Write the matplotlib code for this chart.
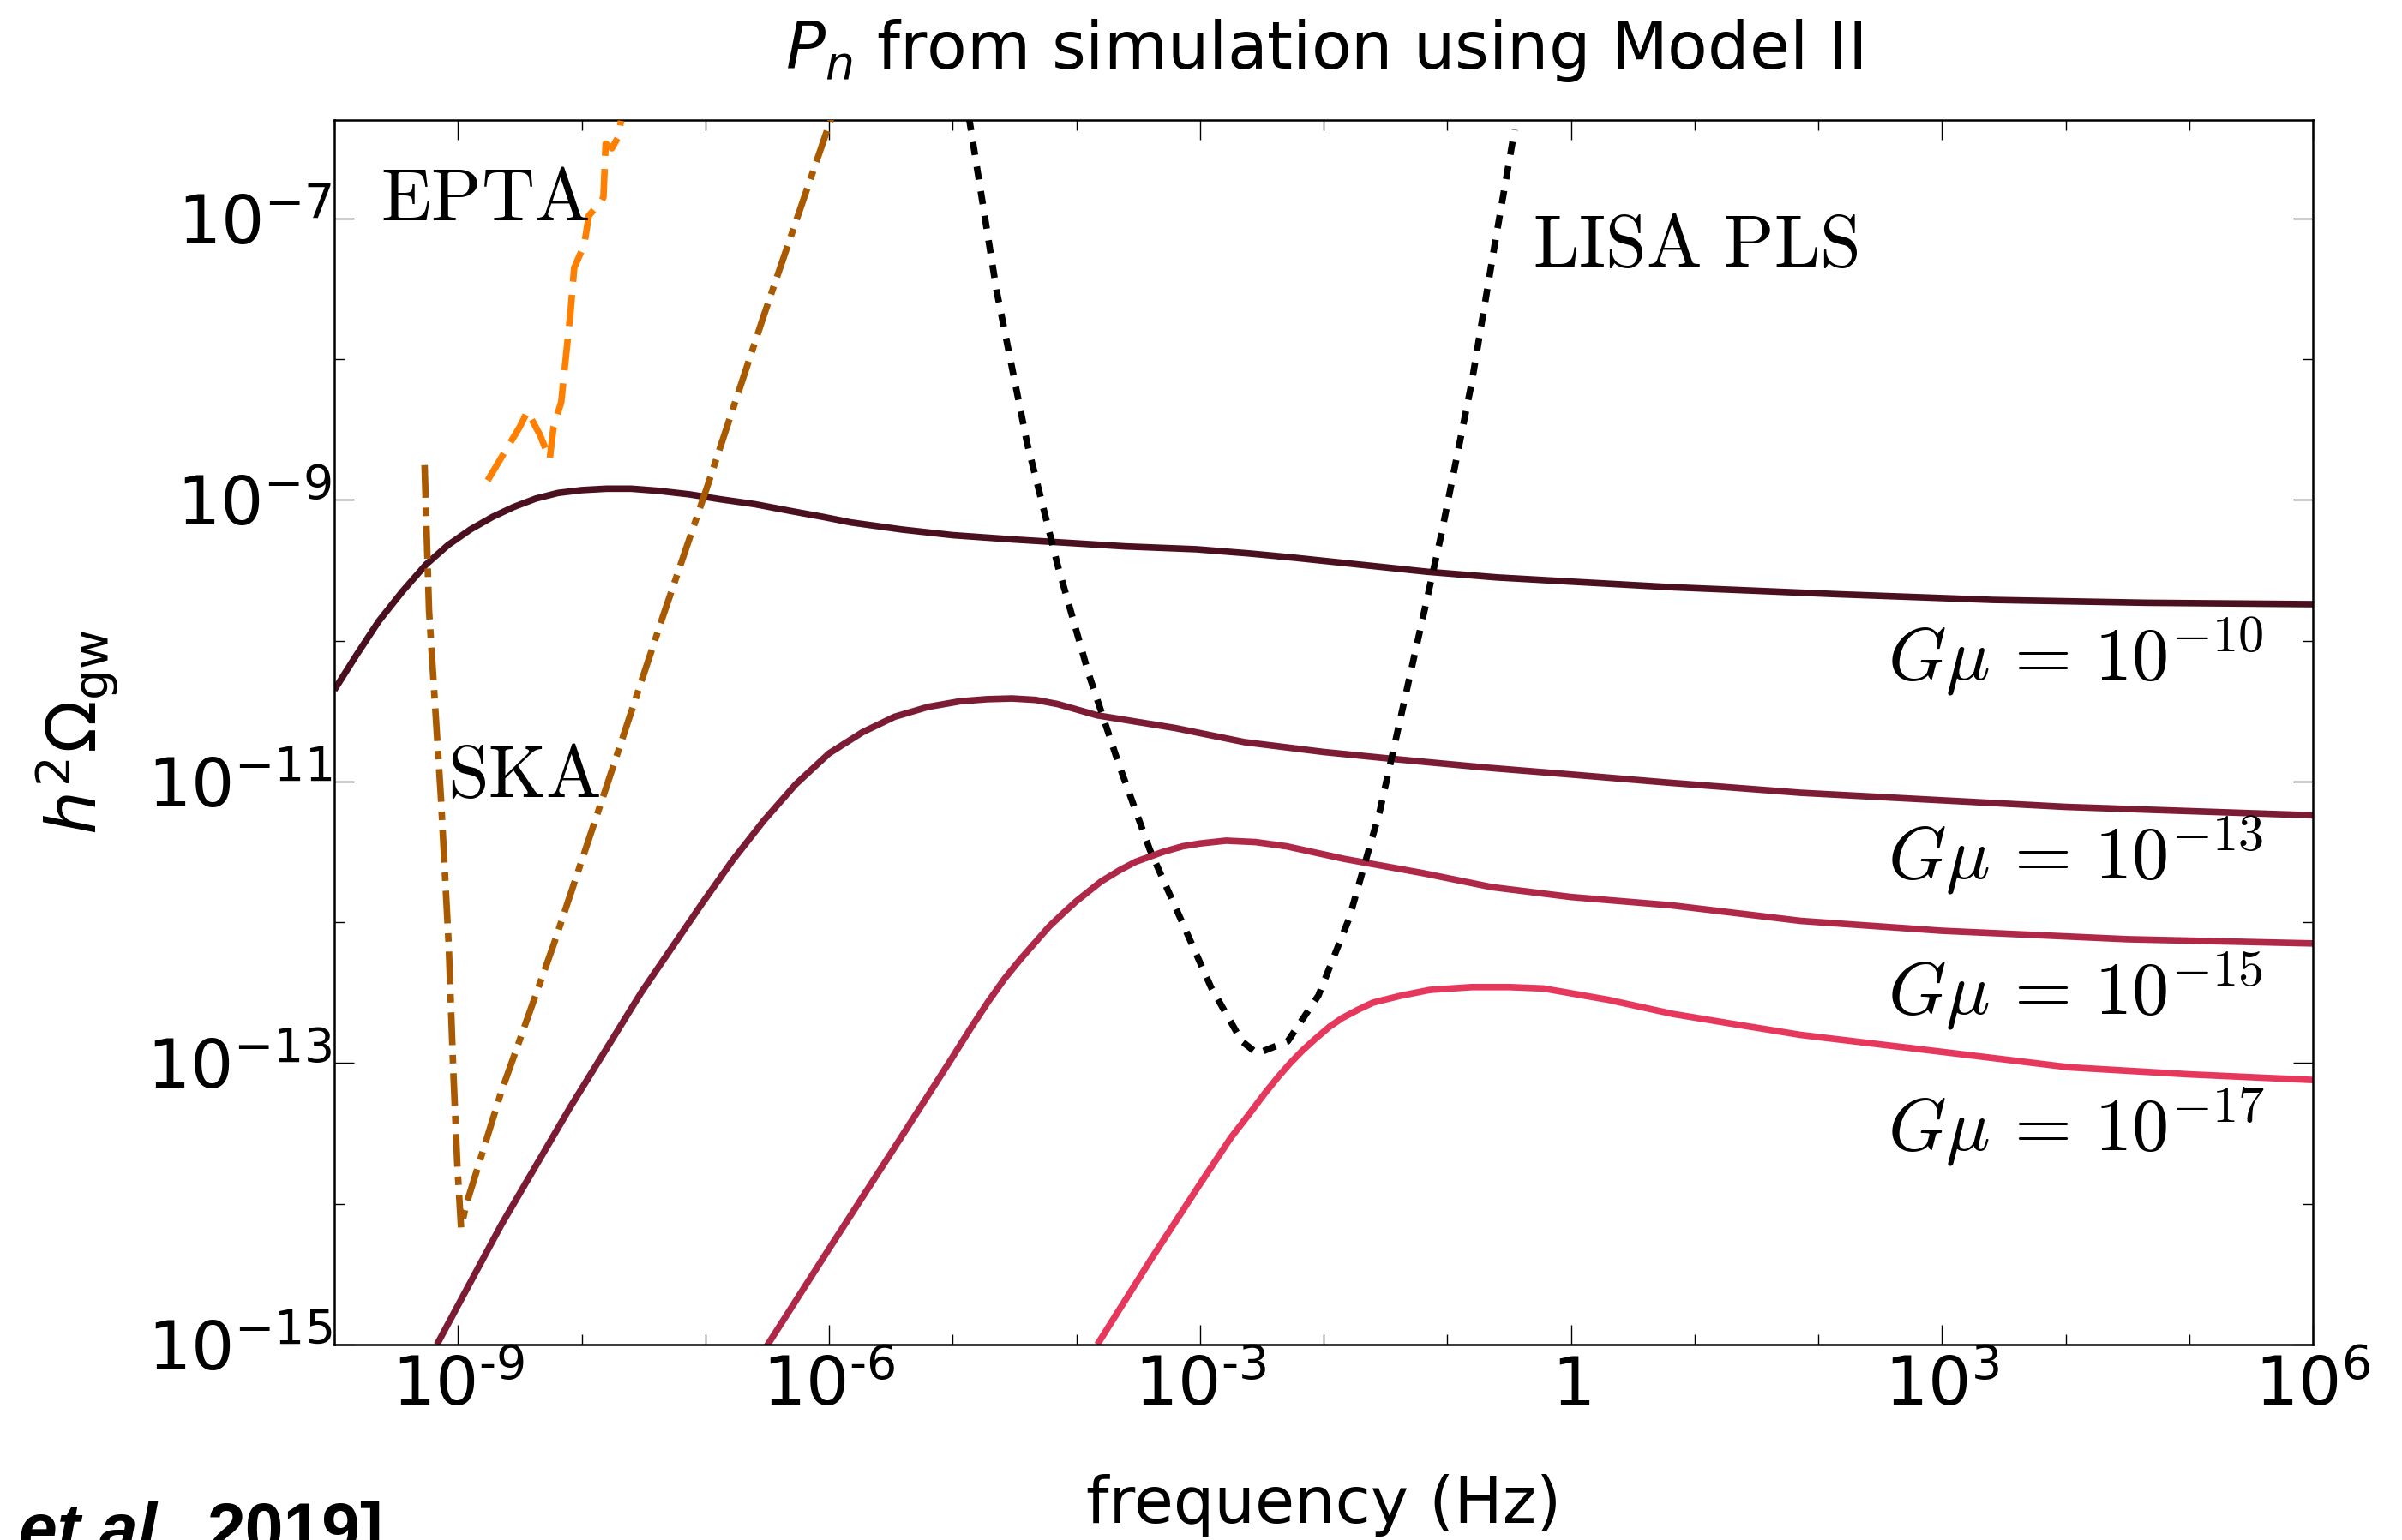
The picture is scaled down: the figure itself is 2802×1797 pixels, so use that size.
import numpy as np
import matplotlib
matplotlib.use("Agg")
import matplotlib.pyplot as plt
from matplotlib.ticker import FixedLocator, LogLocator, NullFormatter

# ── Data (log10 frequency [Hz], log10 h^2 Omega_gw) ─────────────────────────
gmu_labels = [r"$G\mu\,=\,10^{-10}$", r"$G\mu\,=\,10^{-13}$",
              r"$G\mu\,=\,10^{-15}$", r"$G\mu\,=\,10^{-17}$"]
gmu_colors = ["#4b1020", "#7c1c34", "#af2848", "#e6375c"]

gmu10_logf = [-10.0, -9.82, -9.64, -9.45, -9.26, -9.08, -8.90, -8.72, -8.55,
              -8.37, -8.19, -8.00, -7.80, -7.60, -7.38, -7.13, -6.88, -6.60,
              -6.30, -6.05, -5.82, -5.41, -5.00, -4.52, -4.15, -3.60, -3.03,
              -2.60, -2.24, -1.70, -1.16, -0.60, 0.0, 0.82, 1.50, 2.17, 3.41,
              4.65, 6.0]
gmu10_logo = [-10.35, -10.10, -9.86, -9.65, -9.46, -9.32, -9.21, -9.12, -9.05,
              -8.99, -8.95, -8.93, -8.92, -8.92, -8.935, -8.96, -8.995, -9.03,
              -9.08, -9.12, -9.16, -9.21, -9.25, -9.28, -9.30, -9.33, -9.35,
              -9.38, -9.41, -9.46, -9.51, -9.55, -9.58, -9.62, -9.645, -9.67,
              -9.71, -9.73, -9.74]

gmu13_logf = [-9.17, -8.65, -8.09, -7.52, -7.03, -6.78, -6.53, -6.27, -6.00,
              -5.73, -5.47, -5.20, -4.94, -4.72, -4.52, -4.33, -4.15, -3.83,
              -3.20, -2.64, -2.00, -1.43, -0.70, 0.0, 0.82, 1.86, 4.0, 6.0]
gmu13_logo = [-15.0, -14.15, -13.31, -12.50, -11.87, -11.56, -11.28, -11.02,
              -10.80, -10.65, -10.54, -10.47, -10.43, -10.415, -10.41, -10.42,
              -10.45, -10.53, -10.62, -10.72, -10.79, -10.84, -10.90, -10.95,
              -11.01, -11.08, -11.18, -11.24]

gmu15_logf = [-6.51, -6.00, -5.47, -5.01, -4.86, -4.71, -4.58, -4.45, -4.33,
              -4.22, -4.10, -4.00, -3.80, -3.65, -3.52, -3.30, -3.14, -3.00,
              -2.79, -2.55, -2.30, -1.83, -1.20, -0.64, 0.0, 0.82, 1.86, 3.0,
              4.5, 6.0]
gmu15_logo = [-15.02, -14.32, -13.60, -12.97, -12.76, -12.56, -12.40, -12.26,
              -12.14, -12.03, -11.93, -11.85, -11.71, -11.63, -11.57, -11.50,
              -11.46, -11.44, -11.42, -11.43, -11.46, -11.55, -11.65, -11.75,
              -11.82, -11.88, -11.99, -12.06, -12.12, -12.15]

gmu17_logf = [-3.83, -3.40, -3.00, -2.75, -2.60, -2.48, -2.37, -2.27, -2.17,
              -2.07, -1.95, -1.85, -1.72, -1.60, -1.37, -1.14, -0.80, -0.50,
              -0.22, 0.30, 0.82, 1.30, 1.86, 3.0, 4.03, 5.0, 6.0]
gmu17_logo = [-15.0, -14.40, -13.86, -13.53, -13.36, -13.22, -13.10, -13.00,
              -12.91, -12.83, -12.74, -12.68, -12.62, -12.57, -12.52, -12.48,
              -12.46, -12.46, -12.47, -12.55, -12.65, -12.72, -12.80, -12.92,
              -13.03, -13.08, -13.12]

# detector sensitivity curves
epta_logf = [-8.760, -8.500, -8.438, -8.339, -8.258, -8.227, -8.165, -8.128,
             -8.091, -8.060, -7.979, -7.942, -7.855, -7.824, -7.806, -7.756,
             -7.707, -7.682]
epta_logo = [-8.861, -8.480, -8.371, -8.534, -8.709, -8.480, -8.305, -7.989,
             -7.676, -7.350, -7.186, -6.979, -6.893, -6.849, -6.468, -6.501,
             -6.425, -6.306]

ska_logf = [-9.270, -9.234, -9.138, -9.075, -9.039, -9.005, -8.975, -8.934,
            -8.651, -8.227, -7.801, -7.340, -6.988, -6.529, -5.980]
ska_logo = [-8.752, -9.785, -11.111, -12.158, -13.029, -13.728, -14.17, -14.009,
            -13.207, -12.160, -11.040, -9.818, -8.913, -7.693, -6.282]

lisa_logf = [-4.868, -4.645, -4.397, -4.149, -3.901, -3.653, -3.405, -3.157,
             -2.909, -2.661, -2.537, -2.290, -2.042, -1.794, -1.546, -1.298,
             -1.050, -0.802, -0.616, -0.455]
lisa_logo = [-6.282, -7.512, -8.600, -9.470, -10.233, -10.886, -11.485, -11.974,
             -12.464, -12.845, -12.932, -12.845, -12.520, -11.974, -11.212,
             -10.233, -9.253, -8.165, -7.185, -6.369]

xtick_vals = [1e-9, 1e-6, 1e-3, 1.0, 1e3, 1e6]
xtick_labels = [r"$10^{\text{-}9}$", r"$10^{\text{-}6}$", r"$10^{\text{-}3}$",
                r"$1$", r"$10^{3}$", r"$10^{6}$"]
ytick_vals = [1e-15, 1e-13, 1e-11, 1e-9, 1e-7]
ytick_labels = [r"$10^{-15}$", r"$10^{-13}$", r"$10^{-11}$", r"$10^{-9}$",
                r"$10^{-7}$"]

# label anchor points (log10 f of left edge, log10 Omega of centre)
gmu_label_logf = 2.564
gmu_label_logo = [-10.113, -11.525, -12.486, -13.455]


def pw(a):
    return np.power(10.0, np.asarray(a))


# ── Plot ─────────────────────────────────────────────────────────────────────
fig = plt.figure(figsize=(28.02, 17.97), dpi=100)
ax = fig.add_axes([0.1392, 0.1269, 0.8237, 0.7952])

curves = [(gmu10_logf, gmu10_logo), (gmu13_logf, gmu13_logo),
          (gmu15_logf, gmu15_logo), (gmu17_logf, gmu17_logo)]
for (lf, lo), col in zip(curves, gmu_colors):
    ax.plot(pw(lf), pw(lo), color=col, lw=5.5, solid_capstyle="butt",
            solid_joinstyle="round", zorder=2)

ax.plot(pw(ska_logf), pw(ska_logo), color="#a95a00", lw=5.5,
        linestyle=(0, (5.0, 1.5, 1.3, 1.5)), zorder=3)
ax.plot(pw(epta_logf), pw(epta_logo), color="#ff8000", lw=5.5,
        linestyle=(0, (4.8, 2.0)), zorder=3)
ax.plot(pw(lisa_logf), pw(lisa_logo), color="black", lw=5.5,
        linestyle=(0, (2.0, 1.8)), zorder=3)

ax.set_xscale("log")
ax.set_yscale("log")
ax.set_xlim(1e-10, 1e6)
ax.set_ylim(1e-15, 10 ** -6.3)

ax.xaxis.set_major_locator(FixedLocator(xtick_vals))
ax.set_xticklabels(xtick_labels)
ax.xaxis.set_minor_locator(LogLocator(base=10, subs=(1.0,), numticks=40))
ax.xaxis.set_minor_formatter(NullFormatter())
ax.yaxis.set_major_locator(FixedLocator(ytick_vals))
ax.set_yticklabels(ytick_labels)
ax.yaxis.set_minor_locator(LogLocator(base=10, subs=(1.0,), numticks=40))
ax.yaxis.set_minor_formatter(NullFormatter())

ax.tick_params(which="both", direction="in", top=True, right=True,
               labelsize=57, width=1.0, colors="black")
ax.tick_params(which="major", length=16.5)
ax.tick_params(which="minor", length=8.5)
ax.tick_params(axis="x", which="major", pad=8)
ax.tick_params(axis="y", which="major", pad=2)
for sp in ax.spines.values():
    sp.set_linewidth(1.8)

ax.set_xlabel("frequency (Hz)", fontsize=54, labelpad=46)
ax.set_ylabel(r"$h^2\Omega_{\rm gw}$", fontsize=58, labelpad=22)
ax.set_title(r"$P_n$ from simulation using Model II", fontsize=55, pad=43)

# curve annotations
ann = dict(fontsize=62, math_fontfamily="cm", ha="left", va="center")
ax.text(pw(-9.628), pw(-6.869), r"$\mathrm{EPTA}$", **ann)
ax.text(pw(-9.083), pw(-10.967), r"$\mathrm{SKA}$", **ann)
ax.text(pw(-0.306), pw(-7.196), r"$\mathrm{LISA\ PLS}$", **ann)
for lbl, lo in zip(gmu_labels, gmu_label_logo):
    ax.text(pw(gmu_label_logf), pw(lo), lbl, **ann)

# citation fragment at the lower-left corner
fig.text(22 / 2802, -0.0078, "et al.", fontsize=58, fontweight="bold",
         fontstyle="italic", family="Liberation Sans", va="baseline")
fig.text(241 / 2802, -0.0078, "2019]", fontsize=58, fontweight="bold",
         family="Liberation Sans", va="baseline")

fig.savefig("out.png", dpi=100)
